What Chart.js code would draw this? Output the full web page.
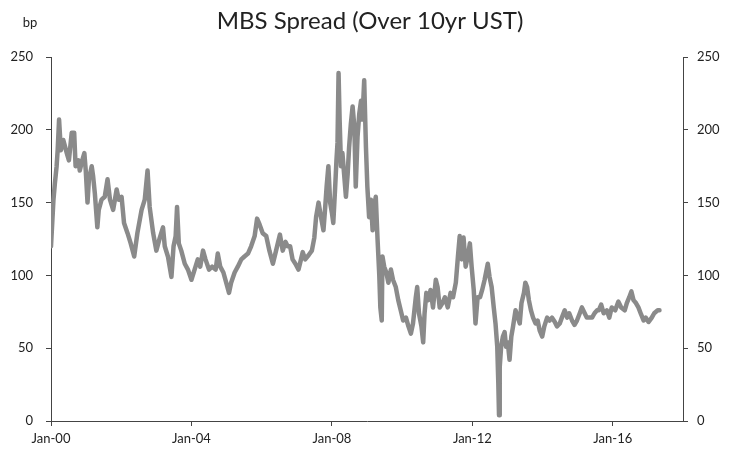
<!DOCTYPE html>
<html>
<head>
<meta charset="utf-8">
<script src="https://cdn.jsdelivr.net/npm/chart.js@4"></script>
<style>
  html, body { margin: 0; padding: 0; background: #fff; }
  #wrap { width: 734px; height: 457px; position: relative; }
</style>
</head>
<body>
<div id="wrap"><canvas id="chartMbs"></canvas></div>
<script>
// Dates as decimal years, spread in bp
const dates = [
  2000.00, 2000.07, 2000.11, 2000.16, 2000.19, 2000.23, 2000.28, 2000.35, 2000.45, 2000.51,
  2000.59, 2000.66, 2000.70, 2000.78, 2000.82, 2000.89, 2000.95, 2000.99, 2001.04, 2001.08,
  2001.16, 2001.20, 2001.25, 2001.32, 2001.36, 2001.44, 2001.53, 2001.61, 2001.68, 2001.77,
  2001.87, 2001.93, 2002.01, 2002.08, 2002.18, 2002.27, 2002.37, 2002.46, 2002.58, 2002.67,
  2002.75, 2002.81, 2002.91, 2003.00, 2003.10, 2003.19, 2003.24, 2003.33, 2003.43, 2003.49,
  2003.55, 2003.59, 2003.64, 2003.71, 2003.81, 2003.90, 2004.00, 2004.09, 2004.18, 2004.25,
  2004.33, 2004.40, 2004.50, 2004.59, 2004.69, 2004.75, 2004.82, 2004.91, 2004.99, 2005.07,
  2005.13, 2005.23, 2005.32, 2005.42, 2005.51, 2005.61, 2005.70, 2005.80, 2005.87, 2005.94,
  2006.03, 2006.13, 2006.22, 2006.32, 2006.41, 2006.52, 2006.60, 2006.68, 2006.74, 2006.81,
  2006.88, 2006.96, 2007.05, 2007.12, 2007.17, 2007.24, 2007.34, 2007.43, 2007.50, 2007.55,
  2007.62, 2007.69, 2007.76, 2007.81, 2007.85, 2007.90, 2007.95, 2008.00, 2008.04, 2008.09,
  2008.13, 2008.16, 2008.19, 2008.22, 2008.26, 2008.30, 2008.36, 2008.40, 2008.45, 2008.49,
  2008.54, 2008.59, 2008.64, 2008.68, 2008.73, 2008.78, 2008.83, 2008.87, 2008.92, 2008.97,
  2009.01, 2009.06, 2009.11, 2009.16, 2009.20, 2009.25, 2009.30, 2009.35, 2009.38, 2009.42,
  2009.44, 2009.49, 2009.55, 2009.61, 2009.68, 2009.74, 2009.82, 2009.89, 2009.96, 2010.03,
  2010.11, 2010.18, 2010.25, 2010.31, 2010.39, 2010.43, 2010.48, 2010.55, 2010.60, 2010.64,
  2010.69, 2010.75, 2010.81, 2010.88, 2010.96, 2011.01, 2011.07, 2011.15, 2011.22, 2011.30,
  2011.38, 2011.45, 2011.53, 2011.59, 2011.64, 2011.70, 2011.75, 2011.81, 2011.87, 2011.93,
  2011.98, 2012.04, 2012.09, 2012.15, 2012.22, 2012.28, 2012.35, 2012.44, 2012.49, 2012.55,
  2012.61, 2012.66, 2012.71, 2012.74, 2012.76, 2012.78, 2012.82, 2012.87, 2012.92, 2012.96,
  2013.01, 2013.06, 2013.11, 2013.16, 2013.23, 2013.30, 2013.35, 2013.40, 2013.47, 2013.51,
  2013.56, 2013.61, 2013.67, 2013.73, 2013.80, 2013.86, 2013.92, 2013.99, 2014.05, 2014.13,
  2014.20, 2014.27, 2014.35, 2014.41, 2014.49, 2014.55, 2014.63, 2014.70, 2014.76, 2014.84,
  2014.91, 2014.98, 2015.06, 2015.12, 2015.20, 2015.26, 2015.34, 2015.41, 2015.48, 2015.55,
  2015.60, 2015.67, 2015.74, 2015.83, 2015.90, 2015.97, 2016.07, 2016.16, 2016.24, 2016.34,
  2016.40, 2016.47, 2016.53, 2016.59, 2016.66, 2016.73, 2016.81, 2016.88, 2016.94, 2017.02,
  2017.11, 2017.18, 2017.28, 2017.33
];
const spread = [
  120, 152, 163, 175, 186, 207, 186, 193, 184, 179,
  198, 198, 175, 179, 172, 179, 184, 172, 150, 166,
  175, 168, 156, 133, 145, 152, 154, 166, 152, 145,
  159, 152, 154, 136, 129, 122, 113, 129, 145, 152,
  172, 147, 129, 117, 126, 133, 120, 113, 99, 120,
  127, 147, 122, 117, 108, 104, 97, 104, 111, 106,
  117, 111, 104, 106, 104, 115, 106, 102, 95, 88,
  95, 102, 106, 111, 113, 115, 120, 127, 139, 135,
  129, 127, 117, 108, 117, 128, 117, 123, 120, 120,
  111, 108, 104, 111, 116, 111, 114, 117, 126, 140,
  150, 140, 131, 147, 161, 175, 150, 143, 136, 159,
  179, 191, 239, 207, 175, 184, 166, 154, 170, 188,
  204, 216, 202, 161, 195, 211, 220, 207, 234, 188,
  161, 140, 152, 131, 147, 154, 125, 100, 78, 69,
  113, 106, 102, 95, 104, 97, 92, 83, 76, 69,
  71, 65, 60, 67, 85, 92, 74, 65, 54, 74,
  88, 83, 90, 78, 97, 92, 78, 81, 85, 78,
  88, 85, 95, 113, 127, 111, 126, 106, 113, 122,
  106, 90, 67, 85, 85, 90, 97, 108, 99, 92,
  78, 67, 51, 26, 4, 37, 51, 58, 61, 51,
  54, 42, 58, 65, 76, 71, 67, 81, 88, 95,
  92, 83, 76, 71, 67, 69, 62, 58, 65, 71,
  69, 71, 68, 65, 67, 71, 76, 71, 74, 69,
  66, 69, 74, 78, 74, 71, 71, 71, 74, 76,
  76, 80, 74, 76, 71, 78, 76, 82, 78, 76,
  81, 85, 89, 83, 81, 78, 73, 69, 71, 68,
  71, 74, 76, 76
];
const xTicks = [2000, 2004, 2008, 2012, 2016];
const xTickLabels = ['Jan-00', 'Jan-04', 'Jan-08', 'Jan-12', 'Jan-16'];
const yTicks = [0, 50, 100, 150, 200, 250];

const FONT = 'Lato, "Open Sans", sans-serif';

// Title and unit label drawn on the canvas
const headerPlugin = {
  id: 'header',
  afterDraw(chart) {
    const ctx = chart.ctx;
    ctx.save();
    ctx.fillStyle = '#222';
    ctx.textBaseline = 'middle';
    ctx.textAlign = 'center';
    ctx.font = '24px ' + FONT;
    ctx.fillText('MBS Spread (Over 10yr UST)', 370, 21);
    ctx.font = '13px ' + FONT;
    ctx.fillText('bp', 30, 23);
    ctx.restore();
  }
};

const axisGrid = { display: true, drawOnChartArea: false, drawTicks: true, tickLength: 5, color: '#444' };
const axisBorder = { display: true, color: '#444', width: 1 };
const tickFont = { family: FONT, size: 13 };

const ctx = document.getElementById('chartMbs').getContext('2d');
new Chart(ctx, {
  type: 'line',
  data: {
    datasets: [{
      data: dates.map((d, i) => ({ x: d, y: spread[i] })),
      borderColor: '#8a8a8a',
      borderWidth: 4.5,
      borderJoinStyle: 'round',
      borderCapStyle: 'round',
      pointRadius: 0,
      tension: 0,
      fill: false,
      yAxisID: 'y'
    }]
  },
  options: {
    responsive: true,
    maintainAspectRatio: false,
    animation: false,
    layout: { padding: { top: 57, left: 0, right: 0, bottom: 0 } },
    plugins: { legend: { display: false }, tooltip: { enabled: false } },
    scales: {
      x: {
        type: 'linear',
        min: 2000,
        max: 2018,
        grid: axisGrid,
        border: axisBorder,
        afterBuildTicks: s => { s.ticks = xTicks.map(v => ({ value: v })); },
        afterFit: s => { s.height = 36; },
        ticks: {
          padding: 5,
          color: '#222',
          font: tickFont,
          maxRotation: 0,
          callback: v => xTickLabels[xTicks.indexOf(v)] ?? ''
        }
      },
      y: {
        position: 'left',
        min: 0,
        max: 250,
        grid: axisGrid,
        border: axisBorder,
        afterBuildTicks: s => { s.ticks = yTicks.map(v => ({ value: v })); },
        afterFit: s => { s.width = 51; },
        ticks: { padding: 13, color: '#222', font: tickFont }
      },
      y2: {
        position: 'right',
        min: 0,
        max: 250,
        grid: axisGrid,
        border: axisBorder,
        afterBuildTicks: s => { s.ticks = yTicks.map(v => ({ value: v })); },
        afterFit: s => { s.width = 51; },
        ticks: { padding: 9, color: '#222', font: tickFont }
      }
    }
  },
  plugins: [headerPlugin]
});
</script>
</body>
</html>
